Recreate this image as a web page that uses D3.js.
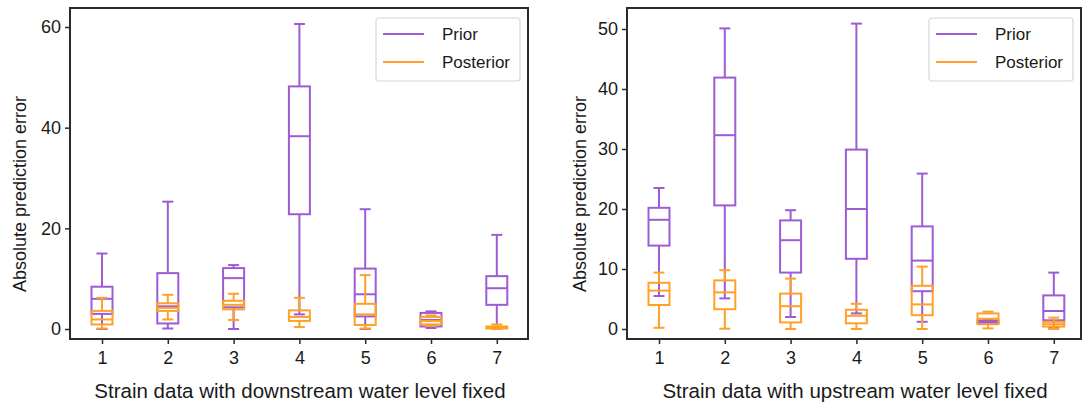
<!DOCTYPE html>
<html>
<head>
<meta charset="utf-8">
<script src="https://cdn.jsdelivr.net/npm/d3@7"></script>
<style>
  html, body { margin: 0; padding: 0; background: #fff; }
  svg { display: block; font-family: "Liberation Sans", Arial, sans-serif; }
</style>
</head>
<body>
<svg id="chart" width="1083" height="406"></svg>
<script>
// Sensor groups on the x axis
const categories = [1, 2, 3, 4, 5, 6, 7];

// Box statistics per group: [lower whisker, Q1, median, Q3, upper whisker]
const downstreamPrior = [
  [0.0, 3.0, 6.0, 8.4, 15.0],
  [0.1, 1.1, 4.5, 11.1, 25.3],
  [0.0, 4.3, 10.1, 12.1, 12.7],
  [2.9, 22.8, 38.3, 48.2, 60.6],
  [0.0, 2.5, 6.9, 12.0, 23.8],
  [0.2, 0.5, 1.8, 3.2, 3.5],
  [0.3, 4.8, 8.1, 10.5, 18.7]
];
const downstreamPosterior = [
  [0.1, 0.9, 1.9, 3.6, 6.2],
  [1.9, 3.6, 4.2, 5.1, 6.8],
  [1.8, 3.9, 4.8, 5.6, 7.0],
  [0.4, 1.6, 2.4, 3.7, 6.2],
  [0.1, 0.8, 2.9, 5.0, 10.7],
  [0.6, 0.9, 1.6, 2.4, 2.7],
  [0.0, 0.1, 0.3, 0.5, 0.9]
];
const upstreamPrior = [
  [5.5, 13.9, 18.2, 20.2, 23.5],
  [5.1, 20.6, 32.3, 41.9, 50.1],
  [2.0, 9.4, 14.8, 18.1, 19.8],
  [2.6, 11.7, 20.0, 29.9, 50.9],
  [1.2, 6.3, 11.4, 17.1, 25.9],
  [0.9, 1.0, 1.2, 1.4, 1.6],
  [0.2, 1.45, 3.0, 5.6, 9.4]
];
const upstreamPosterior = [
  [0.2, 4.0, 6.4, 7.7, 9.4],
  [0.05, 3.3, 6.1, 8.1, 9.8],
  [0.0, 1.1, 3.8, 5.9, 8.4],
  [0.0, 0.95, 2.2, 3.2, 4.2],
  [0.0, 2.3, 4.1, 7.2, 10.4],
  [0.1, 0.8, 1.7, 2.6, 2.9],
  [0.0, 0.4, 0.8, 1.2, 1.9]
];

// Axis ticks
const downstreamTicks = [0, 20, 40, 60];
const upstreamTicks = [0, 10, 20, 30, 40, 50];

const seriesNames = ["Prior", "Posterior"];
const seriesColors = ["#9b5cd6", "#ffa126"];

const svg = d3.select("#chart");

const panels = [
  {
    left: 70, right: 528, top: 8, bottom: 339,
    yDomain: [0, 60], yRange: [329, 27], ticks: downstreamTicks,
    series: [downstreamPrior, downstreamPosterior],
    xTitle: "Strain data with downstream water level fixed",
    yTitleX: 20
  },
  {
    left: 627, right: 1081, top: 8, bottom: 339,
    yDomain: [0, 50], yRange: [329, 29], ticks: upstreamTicks,
    series: [upstreamPrior, upstreamPosterior],
    xTitle: "Strain data with upstream water level fixed",
    yTitleX: 580
  }
];

panels.forEach(p => {
  const g = svg.append("g");
  const x = d3.scaleLinear().domain([1, 7]).range([p.left + 32, p.left + 32 + 6 * 65.8]);
  const y = d3.scaleLinear().domain(p.yDomain).range(p.yRange);

  // Box plots: prior drawn first, posterior on top
  const boxW = 21, capW = 11;
  p.series.forEach((data, si) => {
    const col = seriesColors[si];
    const sg = g.append("g")
      .attr("fill", "none")
      .attr("stroke", col)
      .attr("stroke-width", 2);
    data.forEach((d, i) => {
      const cx = x(categories[i]);
      const [lo, q1, med, q3, hi] = d;
      // whiskers
      sg.append("line").attr("x1", cx).attr("x2", cx).attr("y1", y(q3)).attr("y2", y(hi));
      sg.append("line").attr("x1", cx).attr("x2", cx).attr("y1", y(q1)).attr("y2", y(lo));
      // caps
      sg.append("line").attr("x1", cx - capW / 2).attr("x2", cx + capW / 2).attr("y1", y(hi)).attr("y2", y(hi));
      sg.append("line").attr("x1", cx - capW / 2).attr("x2", cx + capW / 2).attr("y1", y(lo)).attr("y2", y(lo));
      // box
      sg.append("rect")
        .attr("x", cx - boxW / 2).attr("width", boxW)
        .attr("y", y(q3)).attr("height", Math.max(0.5, y(q1) - y(q3)));
      // median
      sg.append("line").attr("x1", cx - boxW / 2).attr("x2", cx + boxW / 2).attr("y1", y(med)).attr("y2", y(med));
    });
  });

  // Frame
  g.append("rect")
    .attr("x", p.left).attr("y", p.top)
    .attr("width", p.right - p.left).attr("height", p.bottom - p.top)
    .attr("fill", "none").attr("stroke", "#2b2b2b").attr("stroke-width", 2);

  // Axes
  const xAxis = g.append("g")
    .attr("transform", `translate(0,${p.bottom})`)
    .call(d3.axisBottom(x).tickValues(categories).tickFormat(d3.format("d")).tickSize(5).tickPadding(7));
  const yAxis = g.append("g")
    .attr("transform", `translate(${p.left},0)`)
    .call(d3.axisLeft(y).tickValues(p.ticks).tickFormat(d3.format("d")).tickSize(5).tickPadding(4));
  [xAxis, yAxis].forEach(a => {
    a.select(".domain").remove();
    a.selectAll(".tick line").attr("stroke", "#2b2b2b").attr("stroke-width", 1.5);
    a.selectAll(".tick text")
      .attr("fill", "#1a1a1a")
      .style("font-family", "'Liberation Sans', Arial, sans-serif")
      .style("font-size", "18px");
  });

  // Axis titles
  g.append("text")
    .attr("x", (p.left + p.right) / 2 + 1)
    .attr("y", 398)
    .attr("text-anchor", "middle")
    .attr("fill", "#1a1a1a")
    .style("font-size", "20.5px")
    .text(p.xTitle);
  g.append("text")
    .attr("transform", `translate(${p.yTitleX + 6},194) rotate(-90)`)
    .attr("text-anchor", "middle")
    .attr("fill", "#1a1a1a")
    .style("font-size", "18px")
    .text("Absolute prediction error");

  // Legend
  const lx = p.right - 152, ly = 18;
  const lg = g.append("g").attr("transform", `translate(${lx},${ly})`);
  lg.append("rect")
    .attr("width", 144).attr("height", 63).attr("rx", 3)
    .attr("fill", "#fff").attr("stroke", "#d6d6d6").attr("stroke-width", 1.2);
  seriesNames.forEach((name, i) => {
    const yy = 16 + i * 28;
    lg.append("line")
      .attr("x1", 7).attr("x2", 48).attr("y1", yy).attr("y2", yy)
      .attr("stroke", seriesColors[i]).attr("stroke-width", 2);
    lg.append("text")
      .attr("x", 66).attr("y", yy + 6)
      .attr("fill", "#1a1a1a")
      .style("font-size", "17px")
      .text(name);
  });
});
</script>
</body>
</html>
